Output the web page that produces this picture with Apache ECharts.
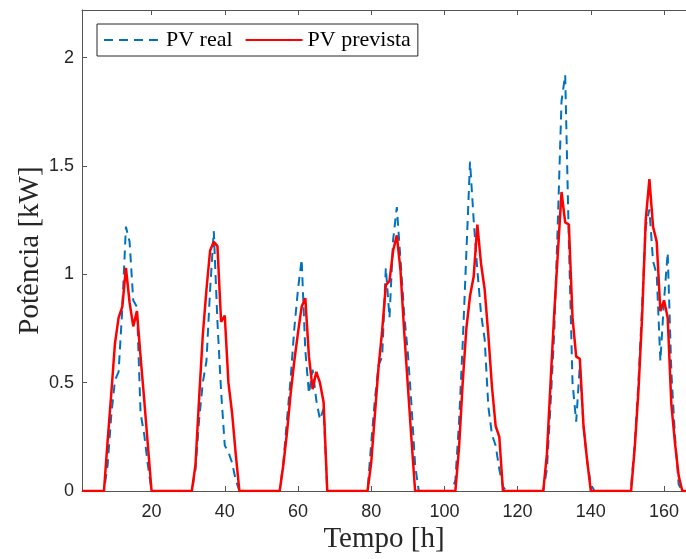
<!DOCTYPE html>
<html>
<head>
<meta charset="utf-8">
<style>
html,body{margin:0;padding:0;background:#fff;}
#chart{width:686px;height:559px;}
</style>
<script src="https://cdn.jsdelivr.net/npm/echarts@6/dist/echarts.min.js"></script>
</head>
<body>
<div id="chart"></div>
<script>
// Hours 1..166
const hourStart = 1;
const hourEnd = 166;

// PV real (kW), hourly, hours 1..166
const pvReal = [
  0,0,0,0,0,0,0,0.12,0.35,0.51,
  0.55,0.84,1.22,1.15,0.88,0.85,0.36,0.26,0.12,0,
  0,0,0,0,0,0,0,0,0,0,
  0,0.10,0.33,0.50,0.60,0.93,1.20,0.78,0.46,0.21,
  0.18,0.13,0.05,0,0,0,0,0,0,0,
  0,0,0,0,0,0.13,0.33,0.52,0.75,0.93,
  1.07,0.65,0.45,0.56,0.42,0.33,0.38,0,0,0,
  0,0,0,0,0,0,0,0,0,0.22,
  0.42,0.58,0.62,1.03,0.80,1.16,1.31,1.07,0.82,0.64,
  0.40,0.12,0,0,0,0,0,0,0,0,
  0,0,0.05,0.32,0.68,1.10,1.52,1.25,1.02,0.82,
  0.70,0.39,0.26,0.21,0.10,0.02,0,0,0,0,
  0,0,0,0,0,0,0,0.10,0.40,0.73,
  1.25,1.80,1.92,1.15,0.50,0.32,0.58,0.30,0.14,0.03,
  0,0,0,0,0,0,0,0,0,0,
  0.02,0.22,0.50,0.85,1.22,1.30,1.06,1.00,0.60,0.88,
  1.10,0.55,0.25,0.03,0,0
];

// PV prevista (kW), hourly, hours 1..166
const pvPrevista = [
  0,0,0,0,0,0,0,0.23,0.45,0.68,
  0.80,0.85,1.03,0.87,0.76,0.83,0.62,0.42,0.21,0,
  0,0,0,0,0,0,0,0,0,0,
  0,0.12,0.43,0.72,0.93,1.11,1.15,1.13,0.78,0.81,
  0.50,0.36,0.17,0,0,0,0,0,0,0,
  0,0,0,0,0,0.12,0.27,0.45,0.60,0.73,
  0.85,0.89,0.62,0.47,0.55,0.50,0.41,0,0,0,
  0,0,0,0,0,0,0,0,0,0.13,
  0.35,0.57,0.74,0.95,0.97,1.11,1.18,1.02,0.74,0.49,
  0.24,0,0,0,0,0,0,0,0,0,
  0,0,0,0.20,0.50,0.75,0.90,0.99,1.23,1.05,
  0.93,0.72,0.48,0.30,0.25,0,0,0,0,0,
  0,0,0,0,0,0,0,0.17,0.50,0.82,
  1.10,1.38,1.24,1.23,0.80,0.62,0.61,0.30,0.14,0,
  0,0,0,0,0,0,0,0,0,0,
  0,0.20,0.46,0.80,1.25,1.44,1.22,1.15,0.83,0.88,
  0.80,0.40,0.22,0.07,0,0
];

const xTicks = [20,40,60,80,100,120,140,160];
const yTicks = [0,0.5,1,1.5,2];
const seriesNames = ['PV real','PV prevista'];

const realData = pvReal.map((v,i)=>[hourStart+i, v]);
const prevData = pvPrevista.map((v,i)=>[hourStart+i, v]);

const axisColor = '#555555';
const chart = echarts.init(document.getElementById('chart'), null, {renderer:'canvas'});
chart.setOption({
  animation:false,
  backgroundColor:'#ffffff',
  grid:{left:82, right:0, top:10, bottom:68, containLabel:false, outerBoundsMode:'none'},
  legend:{
    left:97, top:24,
    orient:'horizontal',
    itemWidth:57, itemHeight:14, itemGap:12,
    padding:[5,7,5,6],
    borderColor:'#262626', borderWidth:1,
    backgroundColor:'#ffffff',
    itemStyle:{opacity:0},
    textStyle:{fontFamily:'Liberation Serif', fontSize:22, color:'#000000'},
    data:seriesNames
  },
  xAxis:[{
    type:'value', min:hourStart, max:hourEnd, position:'bottom',
    axisLine:{show:true, lineStyle:{color:axisColor, width:1}},
    axisTick:{show:true, inside:true, length:5, customValues:xTicks, lineStyle:{color:axisColor}},
    axisLabel:{show:true, customValues:xTicks, margin:12, fontFamily:'Liberation Sans', fontSize:18, color:'#262626'},
    splitLine:{show:false},
    name:'Tempo [h]', nameLocation:'middle', nameGap:34, nameMoveOverlap:false,
    nameTextStyle:{fontFamily:'Liberation Serif', fontSize:29, color:'#262626'}
  },{
    type:'value', min:hourStart, max:hourEnd, position:'top',
    axisLine:{show:true, lineStyle:{color:axisColor, width:1}},
    axisTick:{show:true, inside:true, length:5, customValues:xTicks, lineStyle:{color:axisColor}},
    axisLabel:{show:false},
    splitLine:{show:false}
  }],
  yAxis:[{
    type:'value', min:0, max:2.22,
    axisLine:{show:true, lineStyle:{color:axisColor, width:1}},
    axisTick:{show:true, inside:true, length:5, customValues:yTicks, lineStyle:{color:axisColor}},
    axisLabel:{show:true, customValues:yTicks, margin:8, fontFamily:'Liberation Sans', fontSize:18, color:'#262626'},
    splitLine:{show:false},
    name:'Potência [kW]', nameLocation:'middle', nameGap:37, nameRotate:90, nameMoveOverlap:false,
    nameTextStyle:{fontFamily:'Liberation Serif', fontSize:29, color:'#262626'}
  }],
  series:[{
    name:seriesNames[0], type:'line', xAxisIndex:0, yAxisIndex:0,
    data:realData, symbol:'none', showSymbol:false,
    lineStyle:{color:'#0072BD', width:2, type:[9,6]},
    itemStyle:{color:'#0072BD'}
  },{
    name:seriesNames[1], type:'line', xAxisIndex:0, yAxisIndex:0,
    data:prevData, symbol:'none', showSymbol:false,
    lineStyle:{color:'#FF0000', width:2.5, type:'solid'},
    itemStyle:{color:'#FF0000'}
  }]
});
</script>
</body>
</html>
